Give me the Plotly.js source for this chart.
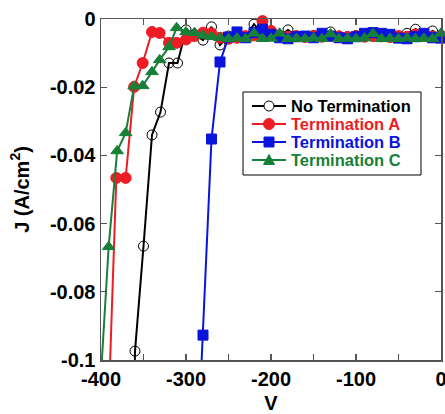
<!DOCTYPE html>
<html><head><meta charset="utf-8">
<script src="https://cdn.plot.ly/plotly-3.0.1.min.js"></script>
<style>html,body{margin:0;padding:0;background:#fff}#chart{width:445px;height:414px}</style>
</head><body><div id="chart"></div>
<script>
// Data (V in volts, J in A/cm^2)
const seriesNames = ['No Termination', 'Termination A', 'Termination B', 'Termination C'];
const seriesColors = ['#000000', '#ee1c24', '#0a14dc', '#168039'];

const vNoTerm = [-362, -360, -350, -340, -330, -320, -310, -300, -290, -280, -270, -260, -250, -240, -230, -220, -210, -200, -190, -180, -170, -160, -150, -140, -130, -120, -110, -100, -90, -80, -70, -60, -50, -40, -30, -20, -10, 0];
const jNoTerm = [-0.13, -0.0974, -0.0666, -0.034, -0.0273, -0.0129, -0.0129, -0.0032, -0.0045, -0.0062, -0.0023, -0.0076, -0.0050, -0.0048, -0.0052, -0.0015, -0.0045, -0.0048, -0.0050, -0.0032, -0.0050, -0.0052, -0.0048, -0.0050, -0.0038, -0.0050, -0.0052, -0.0049, -0.0050, -0.0040, -0.0051, -0.0050, -0.0052, -0.0042, -0.0030, -0.0050, -0.0035, -0.0048];

const vTermA = [-396, -382, -371, -361, -351, -340, -331, -320, -311, -300, -290, -280, -270, -260, -250, -240, -230, -220, -210, -200, -190, -180, -170, -160, -150, -140, -130, -120, -110, -100, -90, -80, -70, -60, -50, -40, -30, -20, -10, 0];
const jTermA = [-0.15, -0.0466, -0.0466, -0.0199, -0.0129, -0.0038, -0.0041, -0.0070, -0.0070, -0.0060, -0.0050, -0.0040, -0.0042, -0.0055, -0.0058, -0.0055, -0.0050, -0.0048, -0.0006, -0.0035, -0.0050, -0.0052, -0.0050, -0.0053, -0.0050, -0.0052, -0.0050, -0.0051, -0.0053, -0.0050, -0.0052, -0.0050, -0.0051, -0.0053, -0.0050, -0.0052, -0.0045, -0.0050, -0.0052, -0.0050];

const vTermB = [-290, -280, -270, -260, -250, -240, -230, -220, -210, -200, -190, -180, -170, -160, -150, -140, -130, -120, -110, -100, -90, -80, -70, -60, -50, -40, -30, -20, -10, 0];
const jTermB = [-0.147, -0.0927, -0.0352, -0.0126, -0.0053, -0.0038, -0.0055, -0.0040, -0.0030, -0.0045, -0.0055, -0.0058, -0.0052, -0.0050, -0.0055, -0.0042, -0.0050, -0.0055, -0.0058, -0.0052, -0.0042, -0.0040, -0.0042, -0.0045, -0.0056, -0.0058, -0.0052, -0.0042, -0.0055, -0.0056];

const vTermC = [-405, -391, -381, -371, -361, -351, -340, -331, -320, -311, -300, -290, -280, -270, -260, -250, -240, -230, -220, -210, -200, -190, -180, -170, -160, -150, -140, -130, -120, -110, -100, -90, -80, -70, -60, -50, -40, -30, -20, -10, 0];
const jTermC = [-0.125, -0.0668, -0.0387, -0.0334, -0.0197, -0.0196, -0.0155, -0.0120, -0.0082, -0.0026, -0.0038, -0.0040, -0.0048, -0.0052, -0.0055, -0.0058, -0.0056, -0.0058, -0.0042, -0.0058, -0.0057, -0.0042, -0.0058, -0.0057, -0.0058, -0.0056, -0.0058, -0.0044, -0.0058, -0.0057, -0.0058, -0.0056, -0.0043, -0.0058, -0.0057, -0.0058, -0.0056, -0.0058, -0.0057, -0.0058, -0.0042];

const xTickVals = [-400, -300, -200, -100, 0];
const xTickText = ['-400', '-300', '-200', '-100', '0'];
const yTickVals = [0, -0.02, -0.04, -0.06, -0.08, -0.1];
const yTickText = ['0', '-0.02', '-0.04', '-0.06', '-0.08', '-0.1'];

const FONT = 'Arial, "Liberation Sans", sans-serif';
const symbols = ['circle-open', 'circle', 'square', 'triangle-up'];
const sizes = [10, 11, 10, 11];
const xs = [vNoTerm, vTermA, vTermB, vTermC];
const ys = [jNoTerm, jTermA, jTermB, jTermC];

const traces = seriesNames.map((n, i) => ({
  x: xs[i], y: ys[i], type: 'scatter', mode: 'lines+markers', name: n,
  line: {color: seriesColors[i], width: 2},
  marker: {symbol: symbols[i], size: sizes[i], color: seriesColors[i], line: {color: seriesColors[i], width: 1}},
  cliponaxis: false, showlegend: false
}));

// Plot-area pixel geometry (margins) used to place the custom legend box
const M = {l: 101, r: 4, t: 19, b: 54};
const PW = 445 - M.l - M.r, PH = 414 - M.t - M.b;
const px = p => (p - M.l) / PW;
const py = p => (414 - M.b - p) / PH;

const shapes = [];
const annotations = [];
shapes.push({type: 'rect', xref: 'paper', yref: 'paper', x0: px(243), x1: px(421), y0: py(92), y1: py(175),
  line: {color: '#000', width: 1}, fillcolor: '#fff', layer: 'above'});
const rowY = [106, 124, 142, 160];
seriesNames.forEach((n, i) => {
  const yy = rowY[i], c = seriesColors[i], cx = 269;
  shapes.push({type: 'line', xref: 'paper', yref: 'paper', x0: px(252), x1: px(286), y0: py(yy), y1: py(yy),
    line: {color: c, width: 2}, layer: 'above'});
  if (i === 0) {
    shapes.push({type: 'circle', xref: 'paper', yref: 'paper', x0: px(cx - 5), x1: px(cx + 5), y0: py(yy + 5), y1: py(yy - 5),
      line: {color: c, width: 1}, fillcolor: '#fff', layer: 'above'});
  } else if (i === 1) {
    shapes.push({type: 'circle', xref: 'paper', yref: 'paper', x0: px(cx - 5.5), x1: px(cx + 5.5), y0: py(yy + 5.5), y1: py(yy - 5.5),
      line: {color: c, width: 1}, fillcolor: c, layer: 'above'});
  } else if (i === 2) {
    shapes.push({type: 'rect', xref: 'paper', yref: 'paper', x0: px(cx - 5), x1: px(cx + 5), y0: py(yy + 5), y1: py(yy - 5),
      line: {color: c, width: 1}, fillcolor: c, layer: 'above'});
  } else {
    shapes.push({type: 'path', xref: 'paper', yref: 'paper',
      path: 'M ' + px(cx - 5.5) + ' ' + py(yy + 4.5) + ' L ' + px(cx + 5.5) + ' ' + py(yy + 4.5) + ' L ' + px(cx) + ' ' + py(yy - 5.5) + ' Z',
      line: {color: c, width: 1}, fillcolor: c, layer: 'above'});
  }
  annotations.push({xref: 'paper', yref: 'paper', x: px(289), y: py(yy), xanchor: 'left', yanchor: 'middle',
    text: '<b>' + n + '</b>', showarrow: false, font: {family: FONT, size: 16.5, color: c}});
});

const axisCommon = {
  showgrid: false, zeroline: false, showline: true, linecolor: '#555', linewidth: 1.5,
  mirror: 'ticks', ticks: 'inside', ticklen: 6, tickcolor: '#555', tickwidth: 1.2,
  tickfont: {family: FONT, size: 20, color: '#000', weight: 'bold'}
};

const layout = {
  width: 445, height: 414,
  margin: M,
  paper_bgcolor: '#fff', plot_bgcolor: '#fff',
  showlegend: false,
  shapes: shapes, annotations: annotations,
  xaxis: Object.assign({}, axisCommon, {
    range: [-400, 0], tickmode: 'array', tickvals: xTickVals, ticktext: xTickText,
    ticklabeloverflow: 'allow',
    minor: {dtick: 50, ticks: 'inside', ticklen: 6, tickcolor: '#555', tickwidth: 1.2},
    title: {text: '<b>V</b>', font: {family: FONT, size: 20, color: '#000'}, standoff: 14}
  }),
  yaxis: Object.assign({}, axisCommon, {
    range: [-0.1, 0], tickmode: 'array', tickvals: yTickVals, ticktext: yTickText,
    title: {text: '<b>J (A/cm<sup>2</sup>)</b>', font: {family: FONT, size: 20, color: '#000'}, standoff: 15}
  })
};

Plotly.newPlot('chart', traces, layout, {displayModeBar: false, staticPlot: true});
</script></body></html>
